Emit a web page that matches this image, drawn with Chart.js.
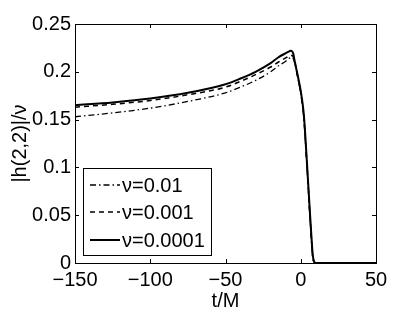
<!DOCTYPE html>
<html>
  <head>
    <meta charset="UTF-8" />
    <title>|h(2,2)|/ν vs t/M</title>
    <script src="https://cdn.jsdelivr.net/npm/chart.js"></script>
    <style>
      body { margin: 0; background: #fff; }
    </style>
  </head>
  <body>
    <canvas id="chart" width="415" height="313"></canvas>

    <script>
      var tValues = [-150, -125, -100, -75, -50, -40, -30, -20, -15, -10, -8, -7, -6, -5, -4, -2, 0, 2, 4, 6, 7, 8, 9, 10, 20, 50];
      var nu001 = [0.153, 0.157, 0.162, 0.169, 0.178, 0.184, 0.191, 0.200, 0.206, 0.211, 0.2138, 0.2147, 0.215, 0.2137, 0.209, 0.194, 0.177, 0.152, 0.104, 0.051, 0.026, 0.005, 0.001, 0, 0, 0];
      var nu0001 = [0.163, 0.166, 0.170, 0.176, 0.184, 0.190, 0.197, 0.205, 0.210, 0.2145, 0.2162, 0.2169, 0.217, 0.2155, 0.210, 0.195, 0.178, 0.154, 0.106, 0.053, 0.028, 0.006, 0.001, 0, 0, 0];
      var nu00001 = [0.165, 0.168, 0.172, 0.178, 0.187, 0.193, 0.200, 0.209, 0.215, 0.2195, 0.2212, 0.2219, 0.2218, 0.219, 0.211, 0.196, 0.180, 0.156, 0.108, 0.055, 0.030, 0.008, 0.001, 0, 0, 0];
      var seriesLabels = ["ν=0.01", "ν=0.001", "ν=0.0001"];
      var xTicks = [-150, -100, -50, 0, 50];
      var xTickLabels = ["−150", "−100", "−50", "0", "50"];
      var yTicks = [0, 0.05, 0.1, 0.15, 0.2, 0.25];
      var yTickLabels = ["0", "0.05", "0.1", "0.15", "0.2", "0.25"];

      var styles = [
        { dash: [6, 3, 1.5, 3], width: 1.3 },
        { dash: [5, 4], width: 1.5 },
        { dash: [], width: 2 },
      ];

      function pts(vals) {
        return tValues.map(function (t, i) {
          return { x: t, y: vals[i] };
        });
      }

      function labelFor(list, labels, v) {
        for (var i = 0; i < list.length; i++) {
          if (Math.abs(list[i] - v) < 1e-9) return labels[i];
        }
        return "";
      }

      // matlab style box with inward ticks on every side
      var framePlugin = {
        id: "frame",
        afterDatasetsDraw: function (chart) {
          var ctx = chart.ctx, a = chart.chartArea;
          var xs = chart.scales.x, ys = chart.scales.y;
          ctx.save();
          ctx.strokeStyle = "#000";
          ctx.lineWidth = 1;
          ctx.strokeRect(a.left + 0.5, a.top + 0.5, a.right - a.left, a.bottom - a.top);
          ctx.beginPath();
          xTicks.forEach(function (v) {
            var px = Math.round(xs.getPixelForValue(v)) + 0.5;
            ctx.moveTo(px, a.bottom); ctx.lineTo(px, a.bottom - 4);
            ctx.moveTo(px, a.top); ctx.lineTo(px, a.top + 4);
          });
          yTicks.forEach(function (v) {
            var py = Math.round(ys.getPixelForValue(v)) + 0.5;
            ctx.moveTo(a.left, py); ctx.lineTo(a.left + 4, py);
            ctx.moveTo(a.right, py); ctx.lineTo(a.right - 4, py);
          });
          ctx.stroke();
          ctx.restore();
        },
        afterDraw: function (chart) {
          var ctx = chart.ctx;
          ctx.save();
          ctx.fillStyle = "#fff";
          ctx.fillRect(83, 168, 128, 87);
          ctx.strokeStyle = "#000";
          ctx.lineWidth = 1;
          ctx.strokeRect(83.5, 168.5, 128, 87);
          ctx.font = "20px 'Liberation Sans', Arial, sans-serif";
          ctx.textBaseline = "middle";
          ctx.fillStyle = "#000";
          var rows = [185, 212, 240];
          seriesLabels.forEach(function (lab, i) {
            ctx.beginPath();
            ctx.setLineDash(styles[i].dash);
            ctx.lineWidth = styles[i].width;
            ctx.moveTo(90, rows[i]);
            ctx.lineTo(120, rows[i]);
            ctx.stroke();
            ctx.setLineDash([]);
            ctx.fillText(lab, 122, rows[i] + 1);
          });
          ctx.restore();
        },
      };

      Chart.defaults.font.family = "'Liberation Sans', Arial, sans-serif";
      Chart.defaults.font.size = 20;
      Chart.defaults.color = "#000";

      new Chart(document.getElementById("chart"), {
        type: "line",
        data: {
          datasets: [nu001, nu0001, nu00001].map(function (vals, i) {
            return {
              label: seriesLabels[i],
              data: pts(vals),
              borderColor: "#000",
              borderWidth: styles[i].width,
              borderDash: styles[i].dash,
              pointRadius: 0,
              fill: false,
              cubicInterpolationMode: "monotone",
            };
          }),
        },
        options: {
          responsive: false,
          animation: false,
          layout: { padding: { left: 0, top: 24, right: 39, bottom: 0 } },
          plugins: { legend: { display: false }, tooltip: { enabled: false } },
          scales: {
            x: {
              type: "linear",
              min: -150,
              max: 50,
              grid: { display: false, drawTicks: false, tickLength: 0 },
              border: { display: false },
              afterBuildTicks: function (s) {
                s.ticks = xTicks.map(function (v) { return { value: v }; });
              },
              afterFit: function (s) { s.height = 50; },
              ticks: {
                padding: 5,
                maxRotation: 0,
                callback: function (v) { return labelFor(xTicks, xTickLabels, v); },
              },
              title: { display: true, text: "t/M", padding: { top: 2, bottom: 0 } },
            },
            y: {
              min: 0,
              max: 0.25,
              grid: { display: false, drawTicks: false, tickLength: 0 },
              border: { display: false },
              afterBuildTicks: function (s) {
                s.ticks = yTicks.map(function (v) { return { value: v }; });
              },
              afterFit: function (s) { s.width = 75; },
              ticks: {
                padding: 4,
                callback: function (v) { return labelFor(yTicks, yTickLabels, v); },
              },
              title: { display: true, text: "|h(2,2)|/ν", padding: { top: 8, bottom: 0 } },
            },
          },
        },
        plugins: [framePlugin],
      });
    </script>
  </body>
</html>
